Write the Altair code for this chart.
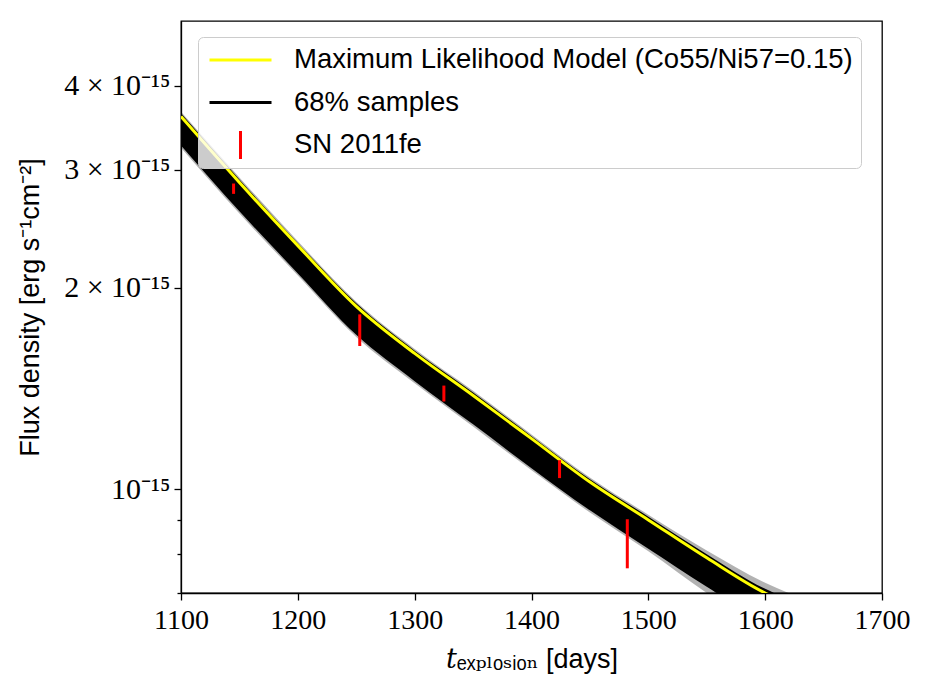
import json
import altair as alt
import pandas as pd

# ---- data (flux in erg s^-1 cm^-2) ----
model_days = [1100, 1150, 1200, 1250, 1300, 1350, 1400, 1450, 1500, 1550, 1600, 1620]
model_flux = [3.60e-15, 2.87e-15, 2.31e-15, 1.875e-15, 1.595e-15, 1.38e-15,
              1.19e-15, 1.025e-15, 0.90e-15, 0.79e-15, 0.70e-15, 0.675e-15]

band_days = [1100, 1150, 1200, 1250, 1300, 1350, 1400, 1450, 1500, 1550, 1600, 1620]
band_upper = [3.64e-15, 2.90e-15, 2.33e-15, 1.895e-15, 1.61e-15, 1.395e-15,
              1.20e-15, 1.035e-15, 0.91e-15, 0.80e-15, 0.71e-15, 0.685e-15]
band_lower = [3.26e-15, 2.60e-15, 2.10e-15, 1.70e-15, 1.45e-15, 1.25e-15,
              1.075e-15, 0.93e-15, 0.815e-15, 0.715e-15, 0.633e-15, 0.61e-15]
fuzz_upper = [3.66e-15, 2.92e-15, 2.345e-15, 1.905e-15, 1.62e-15, 1.403e-15,
              1.207e-15, 1.041e-15, 0.916e-15, 0.81e-15, 0.725e-15, 0.70e-15]
fuzz_lower = [3.235e-15, 2.58e-15, 2.085e-15, 1.688e-15, 1.44e-15, 1.241e-15,
              1.067e-15, 0.923e-15, 0.808e-15, 0.70e-15, 0.615e-15, 0.59e-15]

obs_days = [1145, 1253, 1325, 1424, 1482]
obs_flux = [2.81e-15, 1.73e-15, 1.39e-15, 1.072e-15, 0.832e-15]
obs_err = [0.05e-15, 0.094e-15, 0.038e-15, 0.033e-15, 0.07e-15]

legend_labels = ["Maximum Likelihood Model (Co55/Ni57=0.15)", "68% samples", "SN 2011fe"]
legend_colors = ["#ffff00", "#000000", "#ff0000"]
legend_paths = ["M-1,0H1", "M-1,0H1", "M0,-0.45V0.45"]

xtick_values = [1100, 1200, 1300, 1400, 1500, 1600, 1700]
ytick_values = [7e-16, 8e-16, 9e-16, 1e-15, 2e-15, 3e-15, 4e-15]
ytick_labels = ["", "", "", "10⁻¹⁵", "2 × 10⁻¹⁵", "3 × 10⁻¹⁵", "4 × 10⁻¹⁵"]

# ---- tables ----
model_df = pd.DataFrame({"day": model_days, "flux": model_flux})
band_df = pd.DataFrame({"day": band_days, "lo": band_lower, "hi": band_upper,
                        "flo": fuzz_lower, "fhi": fuzz_upper})
obs_df = pd.DataFrame({"day": obs_days,
                       "lo": [f - e for f, e in zip(obs_flux, obs_err)],
                       "hi": [f + e for f, e in zip(obs_flux, obs_err)]})
legend_df = pd.DataFrame({"label": legend_labels})

SERIF = "Liberation Serif"
SANS = "Liberation Sans"

x_scale = alt.Scale(domain=[1100, 1700], nice=False, zero=False)
y_scale = alt.Scale(type="log", domain=[7e-16, 5e-15], nice=False)

x_axis = alt.Axis(values=xtick_values, format="d", grid=False, labelFlush=False,
                  title="𝑡ₑₓₚₗₒₛᵢₒₙ [days]",
                  labelFont=SERIF, labelFontSize=28, labelColor="black",
                  labelPadding=6, tickSize=7, tickWidth=1.3, tickColor="black",
                  domainColor="black", domainWidth=1.3,
                  titleFont="Liberation Sans, DejaVu Serif", titleFontSize=27,
                  titleFontWeight="normal",
                  titleColor="black", titleX=350.5, titleY=66,
                  titleBaseline="middle", titleAlign="center")

label_expr = (json.dumps(ytick_labels, ensure_ascii=False)
              + "[indexof(" + json.dumps(ytick_values) + ", datum.value)]")
y_axis = alt.Axis(values=ytick_values, labelExpr=label_expr, grid=False, labelFlush=False,
                  title="Flux density [erg s⁻¹cm⁻²]",
                  labelFont=SERIF, labelFontSize=30, labelColor="black",
                  labelPadding=4,
                  tickSize=alt.condition("datum.value >= 1e-15", alt.value(7), alt.value(4)),
                  tickWidth=1.3, tickColor="black",
                  domainColor="black", domainWidth=1.3,
                  titleFont=SANS, titleFontSize=27, titleFontWeight="normal",
                  titleColor="black", titleX=-151, titleY=286,
                  titleAngle=270, titleBaseline="middle", titleAlign="center")


def X(field):
    return alt.X(f"{field}:Q", scale=x_scale, axis=x_axis)


def Y(field):
    return alt.Y(f"{field}:Q", scale=y_scale, axis=y_axis)


fuzz = alt.Chart(band_df).mark_area(color="black", opacity=0.3, clip=True,
                                    interpolate="monotone").encode(
    x=X("day"), y=Y("flo"), y2="fhi")
core = alt.Chart(band_df).mark_area(color="black", opacity=1, clip=True,
                                    interpolate="monotone").encode(
    x=X("day"), y=Y("lo"), y2="hi")
model = alt.Chart(model_df).mark_line(color="#ffff00", strokeWidth=3, clip=True,
                                      interpolate="monotone").encode(
    x=X("day"), y=Y("flux"))
obs = alt.Chart(obs_df).mark_rule(color="#ff0000", strokeWidth=3, clip=True).encode(
    x=X("day"), y=Y("lo"), y2="hi")

legend = alt.Legend(orient="none", legendX=17, legendY=16, title=None,
                    labelFont=SANS, labelFontSize=27.5, labelColor="black",
                    labelLimit=900, labelOffset=21, labelBaseline="middle",
                    symbolOffset=2, symbolSize=3844, symbolStrokeWidth=3,
                    symbolFillColor="transparent", symbolOpacity=1,
                    clipHeight=30, rowPadding=12.5, padding=8,
                    fillColor="rgba(255,255,255,0.8)", strokeColor="#cccccc",
                    cornerRadius=5)

leg = alt.Chart(legend_df).mark_point(filled=False, strokeWidth=3, size=3844,
                                      opacity=1, clip=True).encode(
    x=alt.value(-300), y=alt.value(-300),
    color=alt.Color("label:N", scale=alt.Scale(domain=legend_labels, range=legend_colors),
                    legend=legend),
    shape=alt.Shape("label:N", scale=alt.Scale(domain=legend_labels, range=legend_paths),
                    legend=legend),
)

chart = alt.layer(fuzz, core, model, obs, leg).properties(
    width=701, height=572,
    autosize=alt.AutoSizeParams(type="none"),
    padding={"left": 181, "top": 21, "right": 45, "bottom": 97},
    background="white",
).configure_view(stroke="black", strokeWidth=1.3)

chart.save("out.html", embed_options={"renderer": "svg", "actions": False})
